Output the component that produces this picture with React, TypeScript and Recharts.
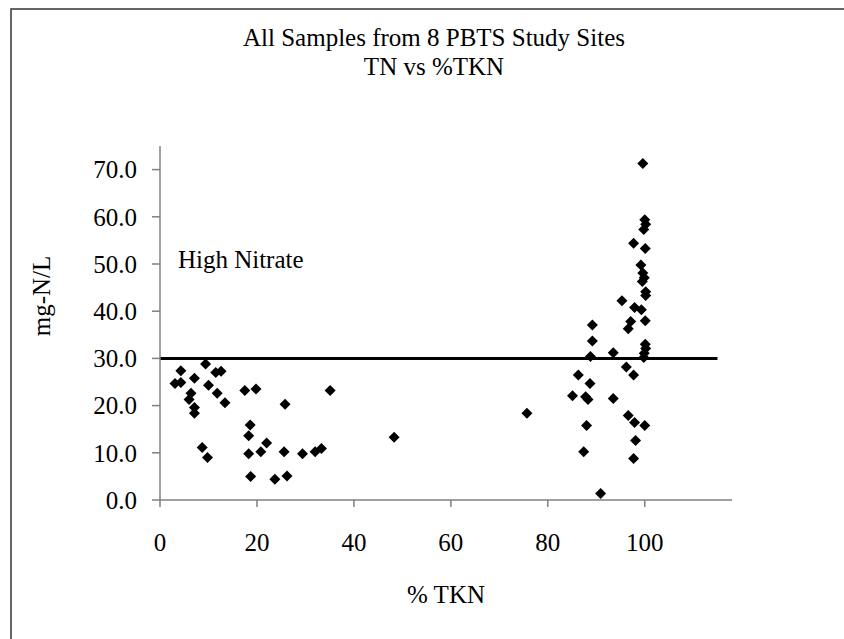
import React from "react";
import {
    ReferenceDot,
    ReferenceLine,
    Scatter,
    ScatterChart,
    XAxis,
    YAxis,
} from "recharts";

// % TKN for each sample (x) and total nitrogen in mg-N/L (y)
const tknPercent = [
    4.3, 3.1, 4.3, 7.1, 9.4, 11.5, 12.6, 10.0, 6.4, 6.0, 7.1, 7.1, 11.8, 13.4, 17.5, 19.8,
    25.8, 35.1, 18.6, 18.3, 22.0, 8.7, 9.8, 18.3, 20.8, 25.6, 29.4, 32.0, 33.3, 18.7, 23.7,
    26.2, 48.3, 75.7,
    99.6, 100.0, 100.2, 99.8, 97.7, 100.1, 99.2, 99.6, 99.9, 99.5, 100.2, 100.2, 95.3, 97.9,
    99.3, 100.1, 97.1, 96.6, 89.2, 89.2, 88.8, 93.5, 100.1, 100.2, 99.9, 99.8, 96.2, 97.7,
    86.3, 88.7, 85.1, 87.8, 88.3, 93.5, 96.6, 97.9, 100.0, 88.0, 98.1, 87.4, 97.7, 90.9,
];
const totalN = [
    27.4, 24.7, 24.9, 25.8, 28.8, 27.0, 27.3, 24.3, 22.6, 21.3, 19.6, 18.4, 22.6, 20.6, 23.2, 23.5,
    20.3, 23.2, 15.9, 13.6, 12.1, 11.1, 9.0, 9.8, 10.2, 10.2, 9.8, 10.2, 10.9, 5.0, 4.4,
    5.1, 13.3, 18.4,
    71.3, 59.4, 58.4, 57.3, 54.4, 53.3, 49.8, 48.1, 47.1, 46.3, 44.1, 43.3, 42.2, 40.8,
    40.3, 38.0, 37.8, 36.3, 37.1, 33.7, 30.4, 31.2, 33.0, 32.1, 31.1, 30.2, 28.2, 26.5,
    26.5, 24.7, 22.1, 21.9, 21.3, 21.5, 17.9, 16.4, 15.8, 15.8, 12.6, 10.2, 8.8, 1.4,
];

const xTicks = [0, 20, 40, 60, 80, 100];
const yTicks = [0, 10, 20, 30, 40, 50, 60, 70];

const nitrateThreshold = 30;
const thresholdEnd = 115;

const samples = tknPercent.map((x, i) => ({ x, y: totalN[i] }));

const serif = "'Liberation Serif', 'Times New Roman', serif";
const axisGrey = "#808080";

const Diamond = (props: any) => {
    const { cx, cy } = props;
    const r = 5.5;
    return <path d={`M${cx},${cy - r}L${cx + r},${cy}L${cx},${cy + r}L${cx - r},${cy}Z`} fill="#000" />;
};

export default function App() {
    return (
        <div style={{ position: "absolute", left: 0, top: 0, width: 844, height: 639, background: "#fff" }}>
            <ScatterChart width={844} height={639} margin={{ top: 146, right: 112, bottom: 0, left: 0 }}>
                <XAxis
                    type="number"
                    dataKey="x"
                    domain={[0, 118]}
                    ticks={xTicks}
                    allowDataOverflow
                    height={139}
                    tickSize={7}
                    tickMargin={26}
                    axisLine={{ stroke: axisGrey, strokeWidth: 1.5 }}
                    tickLine={{ stroke: axisGrey, strokeWidth: 1.5 }}
                    tick={{ fill: "#000", fontSize: 25, fontFamily: serif }}
                />
                <YAxis
                    type="number"
                    dataKey="y"
                    domain={[0, 75]}
                    ticks={yTicks}
                    width={160}
                    tickSize={8}
                    tickMargin={15}
                    tickFormatter={(v: number) => v.toFixed(1)}
                    axisLine={{ stroke: axisGrey, strokeWidth: 1.5 }}
                    tickLine={{ stroke: axisGrey, strokeWidth: 1.5 }}
                    tick={{ fill: "#000", fontSize: 25, fontFamily: serif }}
                />
                <ReferenceLine
                    segment={[
                        { x: 0, y: nitrateThreshold },
                        { x: thresholdEnd, y: nitrateThreshold },
                    ]}
                    stroke="#000"
                    strokeWidth={3}
                />
                <ReferenceDot
                    x={3.7}
                    y={49.1}
                    r={0}
                    fill="none"
                    stroke="none"
                    label={(p: any) => (
                        <text x={p.viewBox.x} y={p.viewBox.y} fontSize={25} fontFamily={serif} fill="#000">
                            High Nitrate
                        </text>
                    )}
                />
                <Scatter data={samples} shape={<Diamond />} isAnimationActive={false} />
            </ScatterChart>
            <svg
                width={844}
                height={639}
                style={{ position: "absolute", left: 0, top: 0, pointerEvents: "none" }}
            >
                <rect x={11} y={9} width={1000} height={1000} fill="none" stroke="#333" strokeWidth={1.5} />
                <text x={434} y={46} textAnchor="middle" fontSize={25} fontFamily={serif} fill="#000">
                    All Samples from 8 PBTS Study Sites
                </text>
                <text x={434} y={75} textAnchor="middle" fontSize={25} fontFamily={serif} fill="#000">
                    TN vs %TKN
                </text>
                <text
                    x={50}
                    y={296}
                    textAnchor="middle"
                    transform="rotate(-90 50 296)"
                    fontSize={25}
                    fontFamily={serif}
                    fill="#000"
                >
                    mg-N/L
                </text>
                <text x={446} y={603} textAnchor="middle" fontSize={25} fontFamily={serif} fill="#000">
                    % TKN
                </text>
            </svg>
        </div>
    );
}
